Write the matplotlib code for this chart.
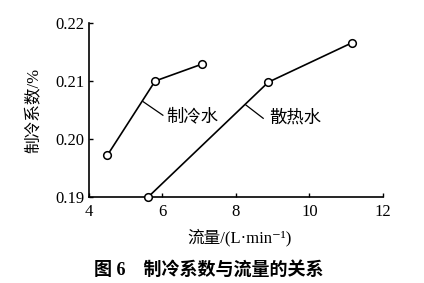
import numpy as np
import matplotlib
matplotlib.use('Agg')
import matplotlib.pyplot as plt

plt.rcParams['font.family'] = ['Liberation Serif', 'Noto Sans CJK SC']

# 制冷水 (chilled water)
cold_flow = [4.50, 5.80, 7.07]
cold_cop = [0.1972, 0.2100, 0.2129]
# 散热水 (cooling water)
heat_flow = [5.61, 8.88, 11.16]
heat_cop = [0.1900, 0.2098, 0.2166]

xticks = [4, 6, 8, 10, 12]
yticks = [0.19, 0.20, 0.21, 0.22]
ytick_labels = ['0.19', '0.20', '0.21', '0.22']

mixed = ['Liberation Serif', 'Noto Sans CJK SC', 'DejaVu Serif']

fig = plt.figure(figsize=(4.24, 2.83), dpi=100)
ax = fig.add_axes([0.2099, 0.3039, 0.6934, 0.6148])

line_kw = dict(color='black', lw=1.2, marker='o', ms=5.5, mfc='white',
               mec='black', mew=1.1, clip_on=False, zorder=3)
ax.plot(cold_flow, cold_cop, **line_kw)
ax.plot(heat_flow, heat_cop, **line_kw)

ax.set_xlim(4, 12)
ax.set_ylim(0.19, 0.22)
ax.set_xticks(xticks)
ax.set_yticks(yticks)
ax.set_yticklabels(ytick_labels)
ax.spines['top'].set_visible(False)
ax.spines['right'].set_visible(False)
for s in ['left', 'bottom']:
    ax.spines[s].set_linewidth(1.2)
ax.tick_params(direction='in', length=3, width=1, labelsize=12)
ax.tick_params(axis='x', pad=5)
ax.tick_params(axis='y', pad=3)

# leader lines and labels
ax.plot([5.475, 6.01], [0.20643, 0.2041], color='black', lw=0.9)
ax.text(6.10, 0.2038, '制冷水', fontsize=12.5, family=mixed,
        va='center', ha='left')
ax.plot([8.27, 8.74], [0.20586, 0.20357], color='black', lw=0.9)
ax.text(8.90, 0.2036, '散热水', fontsize=12.5, family=mixed,
        va='center', ha='left')

ax.set_ylabel('制冷系数/%', family=mixed, fontsize=12)
ax.yaxis.set_label_coords(-0.16, 0.5)
fig.text(0.566, 0.162, '流量/(L·min⁻¹)', family=mixed, fontsize=12,
         ha='center', va='center')
fig.text(0.493, 0.045, '图 6　制冷系数与流量的关系', family=mixed, fontsize=13,
         fontweight='bold', ha='center', va='center')

fig.savefig('out.png', dpi=100)
